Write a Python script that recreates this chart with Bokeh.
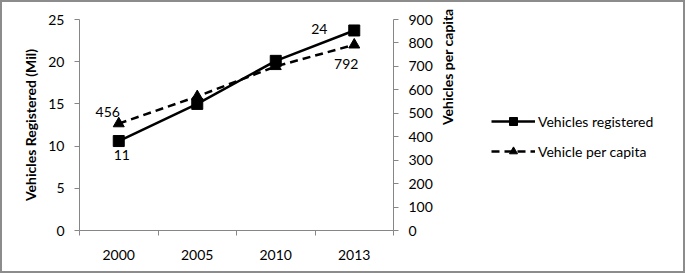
import math
from bokeh.plotting import figure
from bokeh.layouts import row
from bokeh.models import (Range1d, LinearAxis, FixedTicker, ColumnDataSource,
                          Legend, LegendItem)
from bokeh.core.properties import value
from bokeh.embed import file_html
from bokeh.resources import INLINE

years = ["2000", "2005", "2010", "2013"]
vehicles_registered = [10.6, 15.0, 20.1, 23.7]   # millions
vehicles_per_capita = [456, 572, 700, 792]
label_idx = [0, 3]
series_names = ["Vehicles registered", "Vehicle per capita"]

FONT = "Lato"
AX = "#868686"
xpos = list(range(1, len(years) + 1))

W_MAIN, W_LEG, H = 465, 216, 269

p = figure(width=W_MAIN, height=H, output_backend="svg", toolbar_location=None,
           x_range=Range1d(0.5, len(years) + 0.5), y_range=Range1d(0, 25),
           min_border_left=77, min_border_right=W_MAIN - 77 - 318, min_border_top=17,
           min_border_bottom=H - 17 - 211)
p.extra_y_ranges = {"pc": Range1d(0, 900)}
p.outline_line_color = None
p.xgrid.visible = False
p.ygrid.visible = False
p.xaxis.visible = False
p.yaxis.visible = False


def style_axis(ax):
    ax.axis_line_color = AX
    ax.major_tick_line_color = AX
    ax.minor_tick_line_color = AX
    ax.major_label_text_font = FONT
    ax.major_label_text_font_size = "14px"
    ax.major_label_text_color = "black"
    ax.axis_label_text_font = FONT
    ax.axis_label_text_font_size = "14px"
    ax.axis_label_text_font_style = "bold"
    ax.axis_label_text_color = "black"


xa = LinearAxis(ticker=FixedTicker(ticks=xpos,
                                   minor_ticks=[x - 0.5 for x in xpos] + [xpos[-1] + 0.5]))
xa.major_label_overrides = {x: y for x, y in zip(xpos, years)}
style_axis(xa)
xa.major_tick_out = 0
xa.major_tick_in = 0
xa.minor_tick_out = 5
xa.minor_tick_in = 0
xa.major_label_standoff = 14
p.add_layout(xa, "below")

ya = LinearAxis(ticker=FixedTicker(ticks=list(range(0, 26, 5))),
                axis_label="Vehicles Registered (Mil)")
style_axis(ya)
ya.major_tick_out = 5
ya.major_tick_in = 0
ya.minor_tick_out = 0
ya.minor_tick_in = 0
ya.major_label_standoff = 10
ya.axis_label_standoff = 6
p.add_layout(ya, "left")

ya2 = LinearAxis(y_range_name="pc", ticker=FixedTicker(ticks=list(range(0, 901, 100))),
                 axis_label="Vehicles per capita")
style_axis(ya2)
ya2.major_tick_out = 5
ya2.major_tick_in = 0
ya2.minor_tick_out = 0
ya2.minor_tick_in = 0
ya2.major_label_standoff = 10
ya2.axis_label_standoff = 12
ya2.axis_label_orientation = math.pi / 2
p.add_layout(ya2, "right")

src = ColumnDataSource(dict(x=xpos, vr=vehicles_registered, pc=vehicles_per_capita))

LINE1 = dict(line_color="black", line_width=2.5)
LINE2 = dict(line_color="black", line_width=2.5, line_dash="8 5")
MK1 = dict(marker="square", size=11, color="black")
MK2 = dict(marker="triangle", size=11, color="black")

p.line("x", "vr", source=src, **LINE1)
p.scatter("x", "vr", source=src, **MK1)
p.line("x", "pc", source=src, y_range_name="pc", **LINE2)
p.scatter("x", "pc", source=src, y_range_name="pc", **MK2)

lab = ColumnDataSource(dict(
    x=[xpos[i] for i in label_idx],
    vr=[vehicles_registered[i] for i in label_idx],
    pc=[vehicles_per_capita[i] for i in label_idx],
    tvr=[str(round(vehicles_registered[i])) for i in label_idx],
    tpc=[str(round(vehicles_per_capita[i])) for i in label_idx],
    dx1=[3, -35], dy1=[14, -1], dx2=[-11, -8], dy2=[-12, 19],
))
p.text("x", "vr", text="tvr", source=lab, x_offset="dx1", y_offset="dy1",
       text_font=value(FONT), text_font_size="14px", text_align="center",
       text_baseline="middle", text_color="black")
p.text("x", "pc", text="tpc", source=lab, y_range_name="pc", x_offset="dx2",
       y_offset="dy2", text_font=value(FONT), text_font_size="14px",
       text_align="center", text_baseline="middle", text_color="black")

# legend panel: proxy renderers (one point outside the view) carry the series styles
p2 = figure(width=W_LEG, height=H, output_backend="svg", toolbar_location=None,
            x_axis_type=None, y_axis_type=None, min_border=0,
            x_range=Range1d(0, 1), y_range=Range1d(0, 1))
p2.outline_line_color = None
p2.grid.visible = False
proxy = ColumnDataSource(dict(x=[-10], y=[-10]))
r1 = [p2.line("x", "y", source=proxy, **LINE1), p2.scatter("x", "y", source=proxy, **MK1)]
r2 = [p2.line("x", "y", source=proxy, **LINE2), p2.scatter("x", "y", source=proxy, **MK2)]

legend = Legend(items=[LegendItem(label=series_names[0], renderers=r1),
                       LegendItem(label=series_names[1], renderers=r2)],
                location=(24, 69), orientation="vertical")
legend.border_line_color = None
legend.background_fill_alpha = 0
legend.label_text_font = FONT
legend.label_text_font_size = "14px"
legend.label_text_color = "black"
legend.glyph_width = 44
legend.glyph_height = 20
legend.label_height = 20
legend.spacing = 10
legend.padding = 0
legend.margin = 0
legend.label_standoff = 3
p2.add_layout(legend, "center")

layout = row(p, p2, spacing=0,
             styles={"border": "2px solid #8c8c8c", "box-sizing": "content-box"})

open("out.html", "w").write(file_html(layout, INLINE))
